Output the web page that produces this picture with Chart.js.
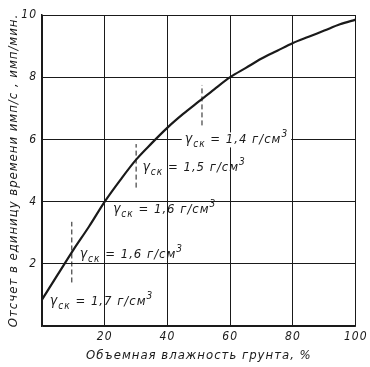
<!DOCTYPE html>
<html>
<head>
<meta charset="utf-8">
<script src="https://cdn.jsdelivr.net/npm/chart.js@4/dist/chart.umd.min.js"></script>
<style>
  html, body { margin: 0; padding: 0; background: #fff; }
  #wrap { width: 370px; height: 367px; }
</style>
</head>
<body>
<div id="wrap"><canvas id="c" width="370" height="367"></canvas></div>
<script>
// ---- data ----
const moisture = [0, 5, 10, 15, 20, 25, 30, 35, 40, 45, 50, 55, 60, 65, 70, 75, 80, 85, 90, 95, 100];
const countRate = [0.85, 1.65, 2.45, 3.2, 4.0, 4.7, 5.35, 5.88, 6.38, 6.82, 7.22, 7.62, 8.0, 8.3, 8.6, 8.85, 9.1, 9.3, 9.5, 9.7, 9.85];
const xTicks = [20, 40, 60, 80, 100];
const yTicks = [2, 4, 6, 8, 10];
const dashX = [9.5, 30, 51];
const dashLow = [1.4, 4.45, 6.45];
const dashHigh = [3.35, 5.85, 7.75];
const densities = ['1,4', '1,5', '1,6', '1,6', '1,7'];
const labelX = [45.5, 32, 22.6, 12, 2.5];
const labelY = [6.0, 5.1, 3.75, 2.3, 0.8];
const xTitle = 'Объемная влажность грунта, %';
const yTitle = 'Отсчет в единицу времени имп/с , имп/мин.';

const FONT = "'Liberation Sans Narrow', 'DejaVu Sans Condensed', 'Liberation Sans', sans-serif";
const INK = '#1a1a1a';

const curve = moisture.map((x, i) => ({ x: x, y: countRate[i] }));
const dashSets = dashX.map((x, i) => ({
  data: [{ x: x, y: dashLow[i] }, { x: x, y: dashHigh[i] }],
  borderColor: INK, borderWidth: 1, borderDash: [5, 3], pointRadius: 0, fill: false
}));

const labelPlugin = {
  id: 'densityLabels',
  beforeDraw(chart) { chart.ctx.letterSpacing = '1px'; },
  afterDatasetsDraw(chart) {
    const ctx = chart.ctx;
    const xs = chart.scales.x, ys = chart.scales.y;
    ctx.save();
    ctx.fillStyle = INK;
    ctx.textBaseline = 'alphabetic';
    ctx.textAlign = 'left';
    densities.forEach((d, i) => {
      let px = xs.getPixelForValue(labelX[i]);
      const py = ys.getPixelForValue(labelY[i]) + 4;
      const parts = [
        { t: 'γ', size: 14, dy: 0 },
        { t: 'ск', size: 10, dy: 4 },
        { t: ' = ' + d + ' г/см', size: 13, dy: 0 },
        { t: '3', size: 10, dy: -6 }
      ];
      let w = 0;
      parts.forEach(p => { ctx.font = 'italic ' + p.size + 'px ' + FONT; p.w = ctx.measureText(p.t).width; w += p.w; });
      if (i === 0) {
        ctx.fillStyle = '#fff';
        ctx.fillRect(px - 3, py - 11, w + 6, 15);
        ctx.fillStyle = INK;
      }
      parts.forEach(p => {
        ctx.font = 'italic ' + p.size + 'px ' + FONT;
        ctx.fillText(p.t, px, py + p.dy);
        px += p.w;
      });
    });
    ctx.restore();
  },
  afterDraw(chart) { chart.ctx.letterSpacing = '0px'; }
};

new Chart(document.getElementById('c'), {
  type: 'line',
  data: {
    datasets: [
      { data: curve, borderColor: INK, borderWidth: 2.2, pointRadius: 0, tension: 0.4,
        cubicInterpolationMode: 'monotone', fill: false },
      ...dashSets
    ]
  },
  options: {
    responsive: false,
    animation: false,
    events: [],
    layout: { padding: { top: 15, right: 14, left: 0, bottom: 0 } },
    plugins: { legend: { display: false }, tooltip: { enabled: false } },
    scales: {
      x: {
        type: 'linear', min: 0, max: 100,
        afterFit: s => { s.height = 41; },
        afterBuildTicks: s => { s.ticks = [0, ...xTicks].map(v => ({ value: v })); },
        ticks: { color: INK, padding: 4, maxRotation: 0,
          font: { family: FONT, size: 12, style: 'italic' },
          callback: v => (v === 0 ? '' : v) },
        grid: { color: INK, lineWidth: 1, drawTicks: false },
        border: { color: INK, width: 1.5 },
        title: { display: true, text: xTitle, color: INK,
          font: { family: FONT, size: 13, style: 'italic' }, padding: { top: 0, bottom: 4 } }
      },
      y: {
        type: 'linear', min: 0, max: 10,
        afterFit: s => { s.width = 42; },
        afterBuildTicks: s => { s.ticks = [0, ...yTicks].map(v => ({ value: v })); },
        ticks: { color: INK, padding: 5,
          font: { family: FONT, size: 12, style: 'italic' },
          callback: v => (v === 0 ? '' : v) },
        grid: { color: INK, lineWidth: 1, drawTicks: false },
        border: { color: INK, width: 1.5 },
        title: { display: true, text: yTitle, color: INK,
          font: { family: FONT, size: 13, style: 'italic' }, padding: { top: 6, bottom: 0 } }
      }
    }
  },
  plugins: [labelPlugin]
});
</script>
</body>
</html>
